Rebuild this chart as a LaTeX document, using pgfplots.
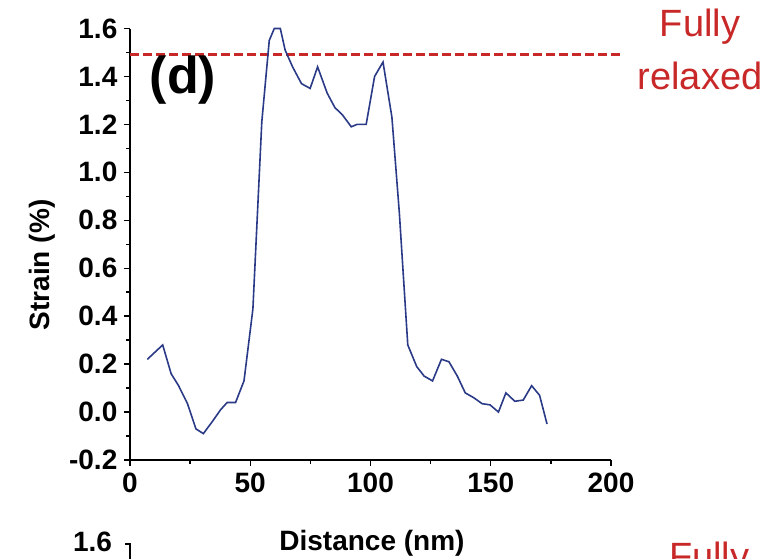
\documentclass[border=0pt]{standalone}
\usepackage{fontspec}
\setmainfont{Liberation Sans}
\usepackage{pgfplots}
\pgfplotsset{compat=1.18}
\definecolor{curveblue}{RGB}{42,58,135}
\definecolor{relaxred}{RGB}{200,40,40}

\begin{document}
\begin{tikzpicture}
\begin{axis}[
  name=ax, at={(0,0)}, anchor=south west,
  scale only axis, width=240.5pt, height=215.75pt,
  xmin=0, xmax=200, ymin=-0.2, ymax=1.6,
  axis x line*=bottom, axis y line*=left,
  axis line style={-, line width=0.75pt},
  tick align=outside, tick style={line width=0.7pt, black},
  major tick length=2.8pt, minor tick length=2pt,
  xtick={0,50,...,200}, minor xtick={25,75,...,175},
  ytick={-0.2,0,...,1.6}, minor ytick={-0.1,0.1,...,1.5},
  /pgf/number format/assume math mode=true,
  yticklabel style={/pgf/number format/.cd, fixed, fixed zerofill, precision=1},
  xticklabel style={/pgf/number format/.cd, fixed},
  ticklabel style={font=\bfseries\fontsize{14}{14}\selectfont},
  xlabel={Distance (nm)}, ylabel={Strain (\%)},
  label style={font=\bfseries\fontsize{14}{14}\selectfont},
  xlabel style={at={(axis description cs:0.503,-0.192)}, anchor=center},
  ylabel style={at={(axis description cs:-0.183,0.452)}, anchor=center},
  clip=false,
]
\addplot[relaxred, line width=1.4pt, dash pattern=on 4.5pt off 2pt] coordinates {(0,1.49) (204,1.49)};
\addplot[curveblue, line width=0.8pt] coordinates {
(7.2,0.22) (13.6,0.28) (17.1,0.16) (20.2,0.11) (23.9,0.035) (27.4,-0.07)
(30.5,-0.09) (34.2,-0.04) (37.7,0.01) (40.4,0.04) (43.9,0.04) (47.4,0.13)
(51.1,0.43) (54.8,1.21) (57.9,1.55) (60.0,1.60) (62.5,1.60) (64.5,1.51)
(67.6,1.44) (71.3,1.37) (74.9,1.35) (78.0,1.44) (82.0,1.33) (85.2,1.27)
(88.3,1.24) (92.0,1.19) (94.4,1.20) (98.2,1.20) (101.7,1.40) (105.2,1.46)
(108.9,1.23) (112.0,0.83) (115.5,0.28) (119.2,0.19) (122.3,0.15) (125.8,0.13)
(129.5,0.22) (132.6,0.21) (136.1,0.15) (139.4,0.08) (142.9,0.06) (146.4,0.035)
(149.7,0.03) (153.2,0.0) (156.3,0.08) (160.0,0.045) (163.5,0.05) (167.0,0.11)
(170.3,0.07) (173.4,-0.05)};
\node[font=\bfseries\fontsize{26}{26}\selectfont] at (axis cs:22,1.385) {(d)};
\end{axis}
\node[relaxred, anchor=base, font=\fontsize{19}{19}\selectfont] at (285pt,211.5pt) {Fully};
\node[relaxred, anchor=base, font=\fontsize{19}{19}\selectfont] at (285pt,185.5pt) {relaxed};
% top of the next panel, cut by the page edge
\draw[line width=0.75pt] (-2.5pt,-42pt) -- (0,-42pt) -- (0,-60pt);
\node[anchor=east, font=\bfseries\fontsize{14}{14}\selectfont] at (-5.5pt,-41pt) {1.6};
\node[relaxred, anchor=base west, font=\fontsize{19}{19}\selectfont] at (266pt,-54.5pt) {Fully};
\pgfresetboundingbox
\path[use as bounding box] (-65pt,-49pt) rectangle (320pt,230pt);
\end{tikzpicture}
\end{document}
